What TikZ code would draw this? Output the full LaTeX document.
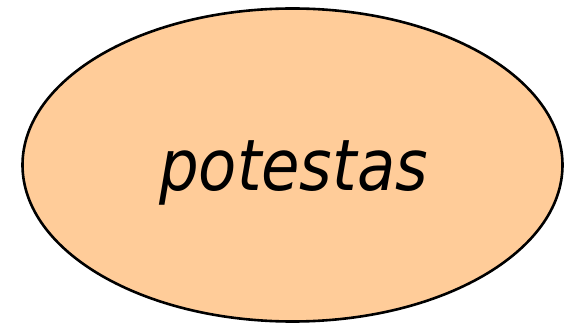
\documentclass[tikz,border=0pt]{standalone}
\usepackage{fontspec}
\setmainfont{DejaVu Sans}
\usepackage{xcolor}
\usepackage{tikz}
\usetikzlibrary{shapes.geometric}
\definecolor{peach}{HTML}{FFCC99}
\newfontfamily\labelfont[FakeStretch=0.88]{DejaVu Sans}

\begin{document}
\begin{tikzpicture}[x=1pt, y=1pt]
  \useasboundingbox (0,0) rectangle (565,324);
  % concept ellipse
  \node[ellipse, draw=black, line width=2.6pt, fill=peach, inner sep=0pt,
        minimum width=540pt, minimum height=313pt] (potestas) at (292.5,159) {};
  \node[font=\labelfont\fontsize{71}{73}\selectfont\itshape, inner sep=0pt, anchor=base]
        (label) at (293.5,133) {potestas};
\end{tikzpicture}
\end{document}
